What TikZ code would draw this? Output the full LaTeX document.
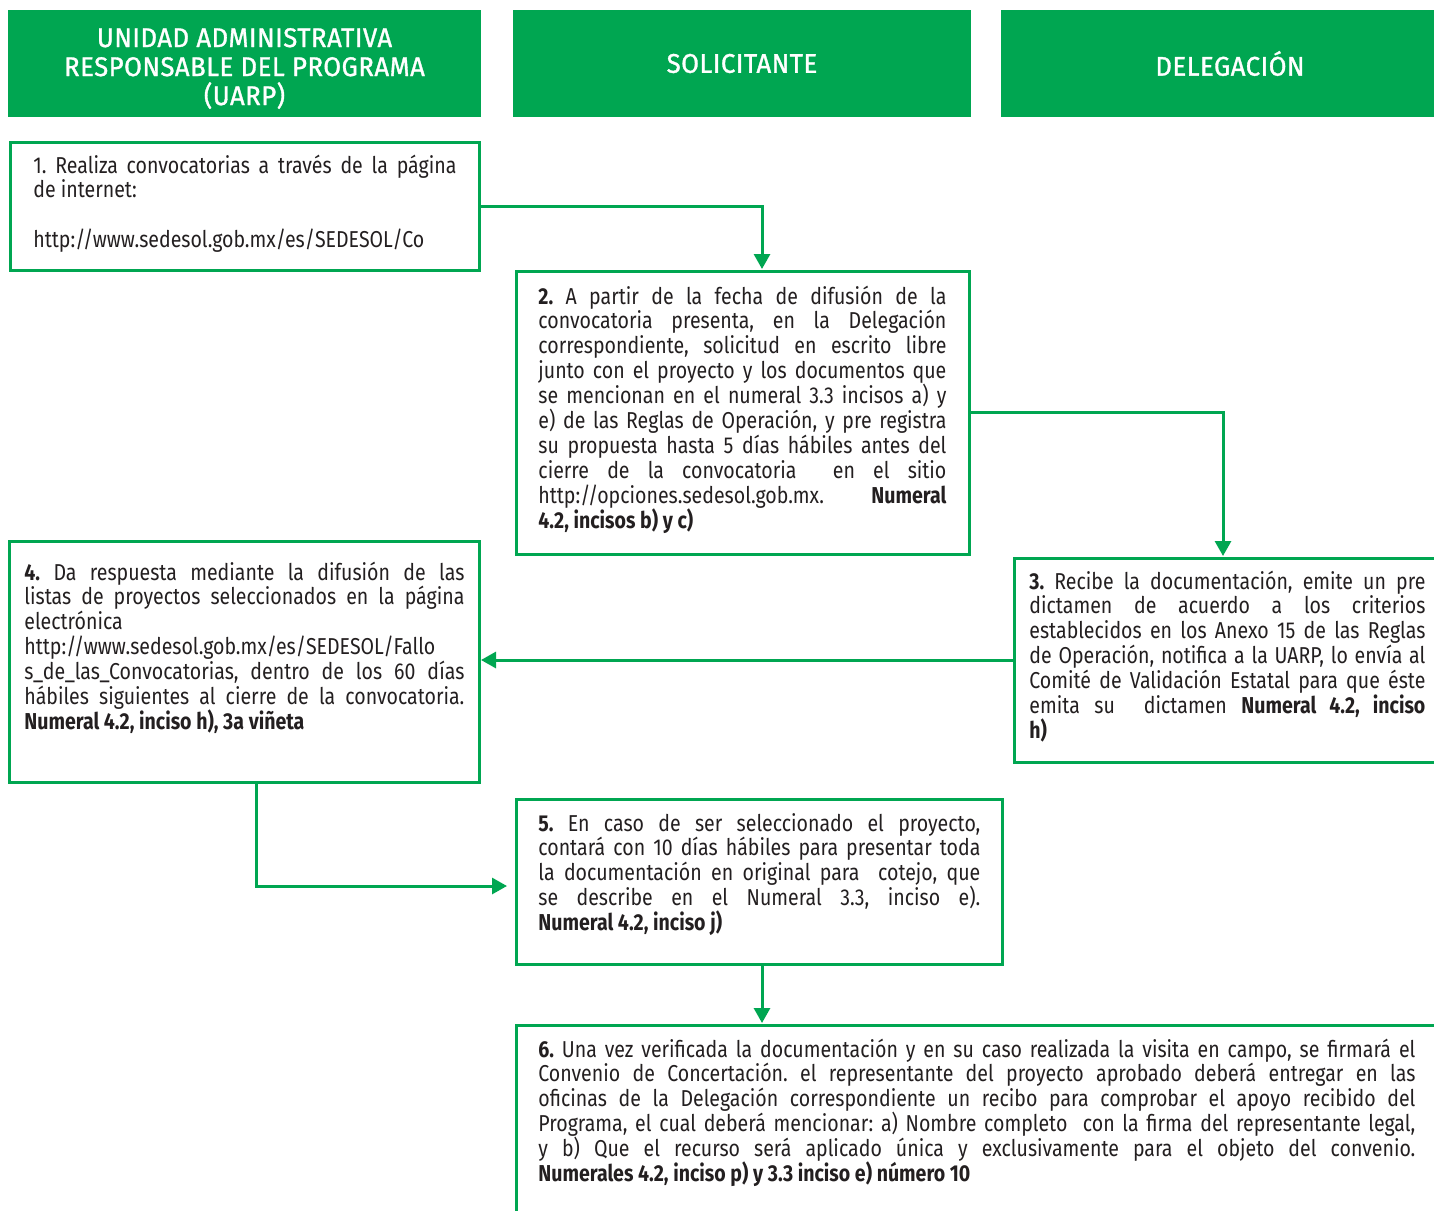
\documentclass[tikz,border=0pt]{standalone}
\usepackage{fontspec}
\setmainfont{Fira Sans}[FakeStretch=0.85]
\newfontfamily\headfont{Fira Sans}[FakeStretch=0.95,LetterSpace=2,FakeBold=1.2]
\usetikzlibrary{arrows.meta}
\definecolor{sgreen}{RGB}{0,166,81}
\definecolor{textgray}{RGB}{35,31,32}
\frenchspacing
% one justified line of a step text
\newcommand{\jl}[1]{\makebox[\hsize][s]{\spaceskip=0pt\xspaceskip=0pt\relax #1}\\}

\begin{document}
\begin{tikzpicture}[x=0.5pt,y=-0.5pt,
    header/.style={
% The shape:
rectangle, anchor=north west,
% The size:
minimum height=53.5pt, minimum width=229pt,
inner sep=0pt, outer sep=0pt,
% The fill:
fill=sgreen, text=white, align=center,
font=\headfont\fontsize{13.5}{14.5}\selectfont,
},
    stepbox/.style={
% The shape:
rectangle, anchor=north west,
% The border:
draw=sgreen, line width=1.5pt,
inner sep=0pt, outer sep=0pt,
},
    steptext/.style={
% The text:
anchor=base west, inner sep=0pt, align=justify,
text=textgray, font=\fontsize{11.5}{12.45}\selectfont,
},
    flow/.style={
% The line:
draw=sgreen, line width=1.5pt, shorten >=1pt,
-{Triangle[width=8pt,length=7.5pt]},
},
]
  \useasboundingbox (0,0) rectangle (1434,1210);
  \clip (0,0) rectangle (1434,1210);

  % column heads
  \node[header, minimum width=236.5pt] (hU) at (8, 10)
    {\rule{0pt}{14.5pt}UNIDAD ADMINISTRATIVA\\RESPONSABLE DEL PROGRAMA\\(UARP)};
  \node[header]                      (hS) at (513, 10) {SOLICITANTE};
  \node[header]                      (hD) at (1001, 10) {DELEGACIÓN};

  % steps
  \node[stepbox, minimum width=234.5pt, minimum height=64pt]  (b1) at (10, 142) {};
  \node[steptext, text width=211.5pt]  (t1) at (33, 173)
    {\jl{1. Realiza convocatorias a través de la página}
     de internet:\\ ~\\
     http://www.sedesol.gob.mx/es/SEDESOL/Co};

  \node[stepbox, minimum width=226.5pt, minimum height=141.5pt] (b2) at (516, 271) {};
  \node[steptext, text width=204pt]  (t2) at (538, 304)
    {\jl{\textbf{2.} A partir de la fecha de difusión de la}
     \jl{convocatoria presenta, en la Delegación}
     \jl{correspondiente, solicitud en escrito libre}
     \jl{junto con el proyecto y los documentos que}
     \jl{se mencionan en el numeral 3.3 incisos a) y}
     \jl{e) de las Reglas de Operación, y pre registra}
     \jl{su propuesta hasta 5 días hábiles antes del}
     \jl{cierre de la convocatoria\ \ en el sitio}
     \jl{http://opciones.sedesol.gob.mx.\ \ \ \textbf{Numeral}}
     \textbf{4.2, incisos b) y c)}};

  \node[stepbox, minimum width=220pt, minimum height=102pt]   (b3) at (1014, 558) {};
  \node[steptext, text width=198pt]  (t3) at (1029, 589)
    {\jl{\textbf{3.} Recibe la documentación, emite un pre}
     \jl{dictamen de acuerdo a los criterios}
     \jl{establecidos en los Anexo 15 de las Reglas}
     \jl{de Operación, notifica a la UARP, lo envía al}
     \jl{Comité de Validación Estatal para que éste}
     \jl{emita su\ \ dictamen \textbf{Numeral 4.2, inciso}}
     \textbf{h)}};

  \node[stepbox, minimum width=235pt, minimum height=120.5pt] (b4) at (9, 541) {};
  \node[steptext, text width=220pt]  (t4) at (24, 580)
    {\jl{\textbf{4.} Da respuesta mediante la difusión de las}
     \jl{listas de proyectos seleccionados en la página}
     electrónica\\
     \jl{http://www.sedesol.gob.mx/es/SEDESOL/Fallo}
     \jl{s\_de\_las\_Convocatorias, dentro de los 60 días}
     \jl{hábiles siguientes al cierre de la convocatoria.}
     \textbf{Numeral 4.2, inciso h), 3a viñeta}};

  \node[stepbox, minimum width=243pt, minimum height=82.5pt]  (b5) at (516, 799) {};
  \node[steptext, text width=221pt]  (t5) at (538, 831)
    {\jl{\textbf{5.} En caso de ser seleccionado el proyecto,}
     \jl{contará con 10 días hábiles para presentar toda}
     \jl{la documentación en original para\ \ cotejo, que}
     \jl{se describe en el Numeral 3.3, inciso e).}
     \textbf{Numeral 4.2, inciso j)}};

  \node[stepbox, minimum width=470pt, minimum height=105pt]   (b6) at (516, 1025) {};
  \node[steptext, text width=438.5pt] (t6) at (538, 1057)
    {\jl{\textbf{6.} Una vez verificada la documentación y en su caso realizada la visita en campo, se firmará el}
     \jl{Convenio de Concertación. el representante del proyecto aprobado deberá entregar en las}
     \jl{oficinas de la Delegación correspondiente un recibo para comprobar el apoyo recibido del}
     \jl{Programa, el cual deberá mencionar: a) Nombre completo\ \ con la firma del representante legal,}
     \jl{y b) Que el recurso será aplicado única y exclusivamente para el objeto del convenio.}
     \textbf{Numerales 4.2, inciso p) y 3.3 inciso e) número 10}};

  % flow
  \draw[flow] (b1.east) -| ([xshift=123pt]b2.north west);
  \draw[flow] (b2.east) -| ([xshift=104.5pt]b3.north west);
  \draw[flow] (b3.west) -- (b3.west -| b4.east);
  \draw[flow, shorten >=4.5pt] ([xshift=123.5pt]b4.south west)
    |- ([yshift=-2.25pt]b5.west);
  \draw[flow] ([xshift=123pt]b5.south west) -- ([xshift=123pt]b6.north west);

\end{tikzpicture}
\end{document}
